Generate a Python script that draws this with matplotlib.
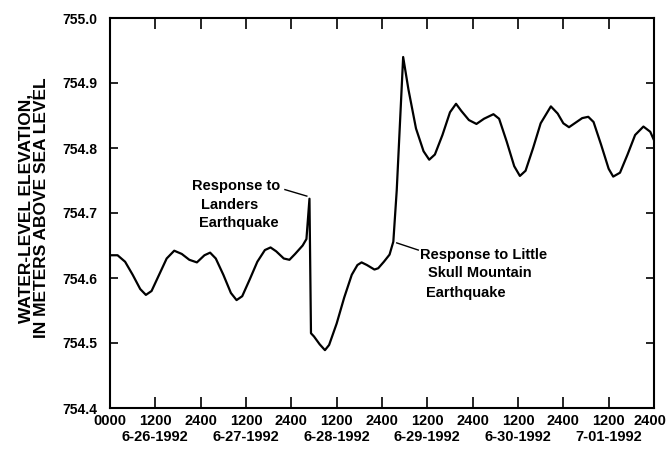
import matplotlib
matplotlib.use("Agg")
import matplotlib.pyplot as plt
import matplotlib.transforms as mtrans

# hours since 6-26-1992 0000
hours = [0, 2, 4, 6, 8, 9.5, 11, 13, 15, 17, 19, 21, 23, 25, 26.5, 28, 30, 32, 33.5,
         35, 37, 39, 41, 42.5, 44, 46, 47.5, 49, 51, 52, 52.8, 53.2, 54, 55.5, 56.9,
         58, 60, 62, 64, 65.5, 66.6, 68, 70, 71, 72.5, 74, 75, 75.9, 77.6, 79, 81,
         83, 84.5, 86, 88, 90, 91.6, 93, 95, 97, 99, 101.5, 103, 105, 107, 108.5,
         110, 112, 114, 116.7, 118.5, 120, 121.5, 123, 125, 126.6, 128, 130, 132,
         133.2, 135, 137, 139, 141.2, 143, 144]
level = [754.635, 754.635, 754.625, 754.605, 754.583, 754.574, 754.580, 754.605,
         754.630, 754.642, 754.637, 754.628, 754.624, 754.635, 754.639, 754.630,
         754.605, 754.577, 754.566, 754.572, 754.598, 754.625, 754.643, 754.647,
         754.641, 754.630, 754.628, 754.637, 754.650, 754.660, 754.722, 754.515,
         754.510, 754.498, 754.489, 754.497, 754.530, 754.570, 754.605, 754.620,
         754.624, 754.620, 754.613, 754.615, 754.625, 754.636, 754.656, 754.735,
         754.940, 754.890, 754.830, 754.795, 754.782, 754.790, 754.820, 754.855,
         754.868, 754.857, 754.843, 754.837, 754.845, 754.852, 754.845, 754.810,
         754.772, 754.757, 754.765, 754.800, 754.838, 754.864, 754.853, 754.838,
         754.832, 754.838, 754.846, 754.848, 754.840, 754.805, 754.768, 754.756,
         754.762, 754.790, 754.820, 754.833, 754.825, 754.812]

xtick_pos = list(range(0, 145, 12))
xtick_labels = ["0000"] + ["1200", "2400"] * 6
dates = ["6-26-1992", "6-27-1992", "6-28-1992", "6-29-1992", "6-30-1992", "7-01-1992"]
ytick_pos = [754.4, 754.5, 754.6, 754.7, 754.8, 754.9, 755.0]

plt.rcParams['font.family'] = ['Liberation Sans', 'DejaVu Sans']

fig = plt.figure(figsize=(6.67, 4.51), dpi=100)
ax = fig.add_axes([110/667, 1-408/451, 544/667, 390/451])
ax.plot(hours, level, color="black", lw=1.6, solid_joinstyle="round")
ax.set_xlim(0, 144)
ax.set_ylim(754.4, 755.0)

ax.set_xticks(xtick_pos)
ax.set_xticklabels(xtick_labels, fontsize=10.5, fontweight="bold")
ax.set_yticks(ytick_pos)
ax.set_yticklabels([f"{v:.1f}" for v in ytick_pos], fontsize=10, fontweight="bold")
ax.tick_params(axis="x", direction="in", length=8, width=1.2, top=True, pad=4)
ax.tick_params(axis="y", direction="in", length=6, width=1.2, right=True, pad=9)
for s in ax.spines.values():
    s.set_linewidth(1.5)

# nudge the last x tick label so it stays inside the figure
last = ax.get_xticklabels()[-1]
last.set_transform(last.get_transform() + mtrans.ScaledTranslation(-4/100, 0, fig.dpi_scale_trans))

for i, d in enumerate(dates):
    ax.text(12 + 24 * i, -0.074, d, transform=ax.get_xaxis_transform(),
            ha="center", va="center", fontsize=10.5, fontweight="bold")

fig.text(34/667, 1-208/451, "WATER-LEVEL ELEVATION,\nIN METERS ABOVE SEA LEVEL",
         rotation=90, ha="center", va="center", multialignment="center",
         fontsize=12.5, fontweight="bold", linespacing=1.05)

fs = 10.5
ax.text(21.7, 754.742, "Response to", fontsize=fs, fontweight="bold", ha="left", va="center")
ax.text(24.0, 754.713, "Landers", fontsize=fs, fontweight="bold", ha="left", va="center")
ax.text(23.6, 754.685, "Earthquake", fontsize=fs, fontweight="bold", ha="left", va="center")
ax.plot([46.3, 52.1], [754.736, 754.726], color="black", lw=1)

ax.text(82.0, 754.635, "Response to Little", fontsize=fs, fontweight="bold", ha="left", va="center")
ax.text(84.3, 754.607, "Skull Mountain", fontsize=fs, fontweight="bold", ha="left", va="center")
ax.text(83.7, 754.577, "Earthquake", fontsize=fs, fontweight="bold", ha="left", va="center")
ax.plot([75.9, 81.6], [754.654, 754.643], color="black", lw=1)

fig.savefig("out.png", dpi=100)
